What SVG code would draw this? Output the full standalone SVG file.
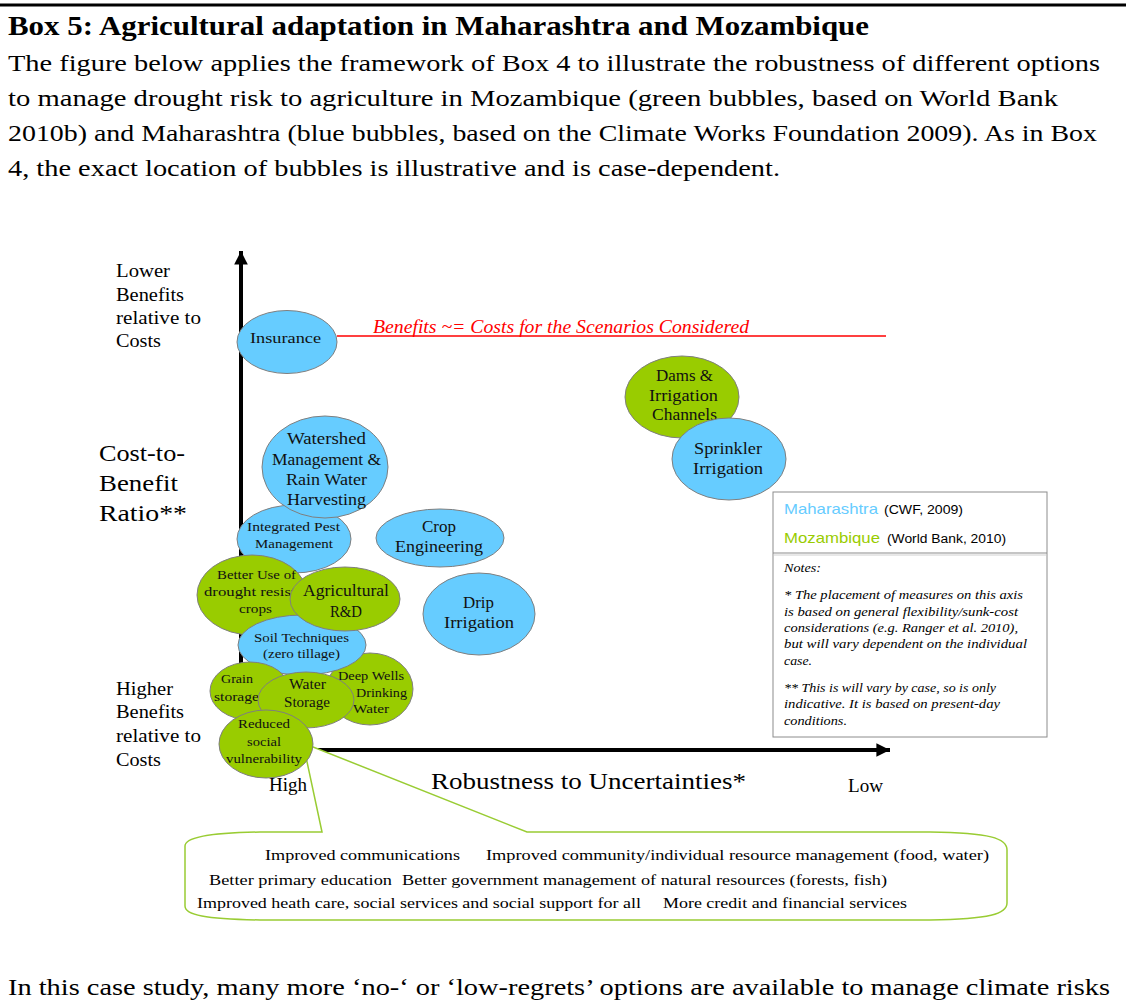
<svg xmlns="http://www.w3.org/2000/svg" width="1126" height="1008" viewBox="0 0 1126 1008">
<style>
.s{font-family:"Liberation Serif","Times New Roman",serif;fill:#000}
.b{font-weight:bold}
.a{font-family:"Liberation Sans",Arial,sans-serif}
.it{font-style:italic}
.blue{fill:#66CCFF;stroke:#7F7F7F;stroke-width:1}
.green{fill:#99CC00;stroke:#7F7F7F;stroke-width:1}
.n{font-family:"Liberation Serif","Times New Roman",serif;fill:#111}
</style>
<defs>
<marker id="ah" viewBox="0 0 10 10" refX="10" refY="5" markerWidth="3.4" markerHeight="3.4" orient="auto" markerUnits="strokeWidth">
<path d="M0,0 L10,5 L0,10 Z" fill="#000"/>
</marker>
</defs>
<rect width="1126" height="1008" fill="#fff"/>
<line x1="0" y1="5" x2="1126" y2="5" stroke="#000" stroke-width="3"/>
<g id="header">
<text class="s b" x="8" y="35" font-size="27" textLength="861" lengthAdjust="spacingAndGlyphs">Box 5: Agricultural adaptation in Maharashtra and Mozambique</text>
<text class="s" x="8" y="71" font-size="23" textLength="1092" lengthAdjust="spacingAndGlyphs">The figure below applies the framework of Box 4 to illustrate the robustness of different options</text>
<text class="s" x="8" y="106" font-size="23" textLength="1050" lengthAdjust="spacingAndGlyphs">to manage drought risk to agriculture in Mozambique (green bubbles, based on World Bank</text>
<text class="s" x="8" y="141" font-size="23" textLength="1089" lengthAdjust="spacingAndGlyphs">2010b) and Maharashtra (blue bubbles, based on the Climate Works Foundation 2009). As in Box</text>
<text class="s" x="8" y="176" font-size="23" textLength="772" lengthAdjust="spacingAndGlyphs">4, the exact location of bubbles is illustrative and is case-dependent.</text>
</g>
<g id="axis-labels">
<text class="s" font-size="18" x="116" y="277" textLength="54" lengthAdjust="spacingAndGlyphs">Lower</text>
<text class="s" font-size="18" x="116" y="301" textLength="68" lengthAdjust="spacingAndGlyphs">Benefits</text>
<text class="s" font-size="18" x="116" y="324" textLength="85" lengthAdjust="spacingAndGlyphs">relative to</text>
<text class="s" font-size="18" x="116" y="347" textLength="45" lengthAdjust="spacingAndGlyphs">Costs</text>
<text class="s" font-size="23.5" x="99" y="461" textLength="86" lengthAdjust="spacingAndGlyphs">Cost-to-</text>
<text class="s" font-size="23.5" x="99" y="491" textLength="79" lengthAdjust="spacingAndGlyphs">Benefit</text>
<text class="s" font-size="23.5" x="99" y="521" textLength="88" lengthAdjust="spacingAndGlyphs">Ratio**</text>
<text class="s" font-size="18" x="116" y="695" textLength="57" lengthAdjust="spacingAndGlyphs">Higher</text>
<text class="s" font-size="18" x="116" y="718" textLength="68" lengthAdjust="spacingAndGlyphs">Benefits</text>
<text class="s" font-size="18" x="116" y="742" textLength="85" lengthAdjust="spacingAndGlyphs">relative to</text>
<text class="s" font-size="18" x="116" y="766" textLength="45" lengthAdjust="spacingAndGlyphs">Costs</text>
<text class="s" font-size="18" x="269" y="791" textLength="38" lengthAdjust="spacingAndGlyphs">High</text>
<text class="s" font-size="23" x="431" y="789" textLength="315" lengthAdjust="spacingAndGlyphs">Robustness to Uncertainties*</text>
<text class="s" font-size="18" x="848" y="792" textLength="35" lengthAdjust="spacingAndGlyphs">Low</text>
</g>
<g id="connectors">
<line x1="241" y1="760" x2="241" y2="251" stroke="#000" stroke-width="4" marker-end="url(#ah)"/>
<line x1="239" y1="750" x2="890" y2="750" stroke="#000" stroke-width="4" marker-end="url(#ah)"/>
<line x1="337" y1="336" x2="886" y2="336" stroke="#FF0000" stroke-width="1.3"/>
<text class="s it" font-size="18" x="373" y="333" fill="#FF0000" style="fill:#FF0000" textLength="376" lengthAdjust="spacingAndGlyphs">Benefits ~= Costs for the Scenarios Considered</text>
<path d="M322,832 L303,743 L527,832 L930,832 C990,833 1007,838 1007,850 L1007,903 C1007,914 990,919 930,920 L260,920 C205,919 185,915 185,906 L185,846 C185,838 205,833 260,832 Z" fill="#fff" stroke="#99CC33" stroke-width="1.5"/>
</g>
<g id="callout-text">
<text class="s" font-size="15.5" x="265" y="860" textLength="195" lengthAdjust="spacingAndGlyphs">Improved communications</text>
<text class="s" font-size="15.5" x="486" y="860" textLength="503" lengthAdjust="spacingAndGlyphs">Improved community/individual resource management (food, water)</text>
<text class="s" font-size="15.5" x="209" y="885" textLength="183" lengthAdjust="spacingAndGlyphs">Better primary education</text>
<text class="s" font-size="15.5" x="402" y="885" textLength="485" lengthAdjust="spacingAndGlyphs">Better government management of natural resources (forests, fish)</text>
<text class="s" font-size="15.5" x="197" y="908" textLength="444" lengthAdjust="spacingAndGlyphs">Improved heath care, social services and social support for all</text>
<text class="s" font-size="15.5" x="663" y="908" textLength="244" lengthAdjust="spacingAndGlyphs">More credit and financial services</text>
</g>
<g id="insurance">
<ellipse class="blue" cx="287" cy="342" rx="50" ry="31.5" stroke="none"/>
<text class="n" font-size="15.5" x="250" y="343" textLength="71" lengthAdjust="spacingAndGlyphs">Insurance</text>
</g>
<g id="crop-engineering">
<ellipse class="blue" cx="440" cy="538" rx="64" ry="29"/>
<text class="n" font-size="16.5" x="422" y="532" textLength="34" lengthAdjust="spacingAndGlyphs">Crop</text>
<text class="n" font-size="16.5" x="395" y="552" textLength="88" lengthAdjust="spacingAndGlyphs">Engineering</text>
</g>
<g id="drip-irrigation">
<ellipse class="blue" cx="479" cy="614" rx="56" ry="41"/>
<text class="n" font-size="16.5" x="463" y="608" textLength="31" lengthAdjust="spacingAndGlyphs">Drip</text>
<text class="n" font-size="16.5" x="444" y="628" textLength="70" lengthAdjust="spacingAndGlyphs">Irrigation</text>
</g>
<g id="dams">
<ellipse class="green" cx="682" cy="397" rx="57" ry="41"/>
<text class="n" font-size="16.5" x="656" y="381" textLength="57" lengthAdjust="spacingAndGlyphs">Dams &amp;</text>
<text class="n" font-size="16.5" x="649" y="401" textLength="69" lengthAdjust="spacingAndGlyphs">Irrigation</text>
<text class="n" font-size="16.5" x="652" y="420" textLength="65" lengthAdjust="spacingAndGlyphs">Channels</text>
</g>
<g id="sprinkler">
<ellipse class="blue" cx="729" cy="459" rx="57" ry="41"/>
<text class="n" font-size="16.5" x="694" y="454" textLength="68" lengthAdjust="spacingAndGlyphs">Sprinkler</text>
<text class="n" font-size="16.5" x="693" y="474" textLength="70" lengthAdjust="spacingAndGlyphs">Irrigation</text>
</g>
<g id="ipm">
<ellipse class="blue" cx="294" cy="539" rx="57" ry="34"/>
<text class="n" font-size="13.5" x="247" y="531" textLength="93" lengthAdjust="spacingAndGlyphs">Integrated Pest</text>
<text class="n" font-size="13.5" x="255" y="548" textLength="78" lengthAdjust="spacingAndGlyphs">Management</text>
</g>
<g id="watershed">
<ellipse class="blue" cx="325" cy="467" rx="63" ry="51"/>
<text class="n" font-size="16" x="287" y="444" textLength="79" lengthAdjust="spacingAndGlyphs">Watershed</text>
<text class="n" font-size="16" x="272" y="465" textLength="109" lengthAdjust="spacingAndGlyphs">Management &amp;</text>
<text class="n" font-size="16" x="286" y="485" textLength="81" lengthAdjust="spacingAndGlyphs">Rain Water</text>
<text class="n" font-size="16" x="287" y="505" textLength="79" lengthAdjust="spacingAndGlyphs">Harvesting</text>
</g>
<g id="better-use">
<ellipse class="green" cx="252" cy="595" rx="55" ry="40"/>
<text class="n" font-size="13.5" x="217" y="579" textLength="79" lengthAdjust="spacingAndGlyphs">Better Use of</text>
<text class="n" font-size="13.5" x="204" y="596" textLength="112" lengthAdjust="spacingAndGlyphs">drought resistant</text>
<text class="n" font-size="13.5" x="239" y="613" textLength="33" lengthAdjust="spacingAndGlyphs">crops</text>
</g>
<g id="deep-wells">
<ellipse class="green" cx="370" cy="689" rx="43" ry="36"/>
<text class="n" font-size="13.5" x="338" y="680" textLength="66" lengthAdjust="spacingAndGlyphs">Deep Wells</text>
<text class="n" font-size="13.5" x="356" y="697" textLength="51" lengthAdjust="spacingAndGlyphs">Drinking</text>
<text class="n" font-size="13.5" x="353" y="713" textLength="36" lengthAdjust="spacingAndGlyphs">Water</text>
</g>
<g id="soil-techniques">
<ellipse class="blue" cx="302" cy="645" rx="64" ry="30"/>
<text class="n" font-size="13.5" x="254" y="642" textLength="95" lengthAdjust="spacingAndGlyphs">Soil Techniques</text>
<text class="n" font-size="13.5" x="263" y="658" textLength="77" lengthAdjust="spacingAndGlyphs">(zero tillage)</text>
</g>
<g id="agri-rd">
<ellipse class="green" cx="345" cy="599" rx="55" ry="32"/>
<text class="n" font-size="16.5" x="303" y="596" textLength="86" lengthAdjust="spacingAndGlyphs">Agricultural</text>
<text class="n" font-size="16.5" x="330" y="617" textLength="32" lengthAdjust="spacingAndGlyphs">R&amp;D</text>
</g>
<g id="grain-storage">
<ellipse class="green" cx="250" cy="691" rx="40" ry="29"/>
<text class="n" font-size="13.5" x="221" y="683" textLength="32" lengthAdjust="spacingAndGlyphs">Grain</text>
<text class="n" font-size="13.5" x="214" y="701" textLength="45" lengthAdjust="spacingAndGlyphs">storage</text>
</g>
<g id="water-storage">
<ellipse class="green" cx="306" cy="700" rx="48" ry="28"/>
<text class="n" font-size="14" x="289" y="689" textLength="37" lengthAdjust="spacingAndGlyphs">Water</text>
<text class="n" font-size="14" x="284" y="707" textLength="46" lengthAdjust="spacingAndGlyphs">Storage</text>
</g>
<g id="reduced-vulnerability">
<ellipse class="green" cx="266" cy="744" rx="47" ry="34"/>
<text class="n" font-size="13.5" x="238" y="728" textLength="52" lengthAdjust="spacingAndGlyphs">Reduced</text>
<text class="n" font-size="13.5" x="247" y="746" textLength="34" lengthAdjust="spacingAndGlyphs">social</text>
<text class="n" font-size="13.5" x="226" y="763" textLength="76" lengthAdjust="spacingAndGlyphs">vulnerability</text>
</g>
<g id="legend">
<rect x="773" y="492" width="274" height="245" fill="#fff" stroke="#8C8C8C" stroke-width="1"/>
<line x1="773" y1="553" x2="1047" y2="553" stroke="#8C8C8C" stroke-width="1.2"/>
<line x1="774" y1="555" x2="1046" y2="555" stroke="#D0D0D0" stroke-width="1"/>
<text class="a" font-size="14.5" x="784" y="514" fill="#66CCFF" textLength="94" lengthAdjust="spacingAndGlyphs">Maharashtra</text>
<text class="a" font-size="12" x="884" y="514" fill="#000" textLength="79" lengthAdjust="spacingAndGlyphs">(CWF, 2009)</text>
<text class="a" font-size="14.5" x="784" y="543" fill="#99CC00" textLength="96" lengthAdjust="spacingAndGlyphs">Mozambique</text>
<text class="a" font-size="12" x="887" y="543" fill="#000" textLength="119" lengthAdjust="spacingAndGlyphs">(World Bank, 2010)</text>
<text class="s it" font-size="12.5" x="784" y="572" textLength="37" lengthAdjust="spacingAndGlyphs">Notes:</text>
<text class="s it" font-size="12.5" x="784" y="599" textLength="239" lengthAdjust="spacingAndGlyphs">* The placement of measures on this axis</text>
<text class="s it" font-size="12.5" x="784" y="616" textLength="234" lengthAdjust="spacingAndGlyphs">is based on general flexibility/sunk-cost</text>
<text class="s it" font-size="12.5" x="784" y="632" textLength="234" lengthAdjust="spacingAndGlyphs">considerations (e.g. Ranger et al. 2010),</text>
<text class="s it" font-size="12.5" x="784" y="648" textLength="243" lengthAdjust="spacingAndGlyphs">but will vary dependent on the individual</text>
<text class="s it" font-size="12.5" x="784" y="665" textLength="28" lengthAdjust="spacingAndGlyphs">case.</text>
<text class="s it" font-size="12.5" x="784" y="692" textLength="212" lengthAdjust="spacingAndGlyphs">** This is will vary by case, so is only</text>
<text class="s it" font-size="12.5" x="784" y="708" textLength="216" lengthAdjust="spacingAndGlyphs">indicative. It is based on present-day</text>
<text class="s it" font-size="12.5" x="784" y="725" textLength="63" lengthAdjust="spacingAndGlyphs">conditions.</text>
</g>
<g id="footer">
<text class="s" x="8" y="995" font-size="23" textLength="1102" lengthAdjust="spacingAndGlyphs">In this case study, many more ‘no-‘ or ‘low-regrets’ options are available to manage climate risks</text>
</g>
</svg>
